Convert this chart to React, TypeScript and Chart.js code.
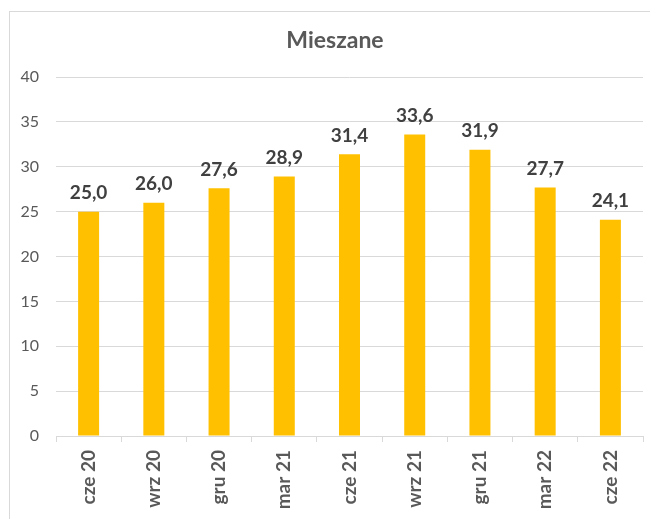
import React, { useEffect, useRef } from "react";
import { Chart, registerables } from "chart.js";

Chart.register(...registerables);

const categories = ["cze 20", "wrz 20", "gru 20", "mar 21", "cze 21", "wrz 21", "gru 21", "mar 22", "cze 22"];
const values = [25.0, 26.0, 27.6, 28.9, 31.4, 33.6, 31.9, 27.7, 24.1];
const titleText = "Mieszane";
const yMin = 0;
const yMax = 40;
const yStep = 5;

const FONT = "Lato, 'Open Sans', sans-serif";

const labelPlugin = {
  id: "valueLabels",
  afterDatasetsDraw(chart: any) {
    const ctx = chart.ctx;
    const meta = chart.getDatasetMeta(0);
    ctx.save();
    ctx.font = `bold 19px ${FONT}`;
    ctx.fillStyle = "#404040";
    ctx.textAlign = "center";
    ctx.textBaseline = "alphabetic";
    meta.data.forEach((bar: any, i: number) => {
      const txt = values[i].toFixed(1).replace(".", ",");
      ctx.fillText(txt, bar.x, bar.y - 12.5);
    });
    ctx.restore();
  },
};

const titlePlugin = {
  id: "customTitle",
  afterDraw(chart: any) {
    const ctx = chart.ctx;
    ctx.save();
    ctx.font = `bold 23px ${FONT}`;
    ctx.fillStyle = "#595959";
    ctx.textAlign = "center";
    ctx.textBaseline = "alphabetic";
    ctx.fillText(titleText, 335, 48);
    ctx.restore();
  },
};

export default function App() {
  const ref = useRef<HTMLCanvasElement | null>(null);
  useEffect(() => {
    if (!ref.current) return;
    const chart = new Chart(ref.current, {
      type: "bar",
      data: {
        labels: categories,
        datasets: [
          {
            data: values,
            backgroundColor: "#FFC000",
            borderWidth: 0,
            categoryPercentage: 1,
            barPercentage: 0.322,
          },
        ],
      },
      options: {
        animation: false,
        responsive: false,
        layout: { padding: { top: 77, right: 7, bottom: 0, left: 0 } },
        plugins: {
          legend: { display: false },
          title: { display: false },
          tooltip: { enabled: false },
        },
        scales: {
          x: {
            offset: true,
            grid: {
              offset: true,
              drawOnChartArea: false,
              drawTicks: true,
              tickLength: 6,
              color: "#d9d9d9",
            },
            border: { display: true, color: "#d9d9d9" },
            ticks: {
              minRotation: 90,
              maxRotation: 90,
              padding: 8,
              color: "#595959",
              font: { family: FONT, size: 19, weight: "bold" },
            },
            afterFit(scale: any) {
              scale.height = 83;
            },
          },
          y: {
            min: yMin,
            max: yMax,
            ticks: {
              stepSize: yStep,
              padding: 17,
              color: "#595959",
              font: { family: FONT, size: 16 },
            },
            grid: { color: "#d9d9d9", drawTicks: false },
            border: { display: false },
            afterFit(scale: any) {
              scale.width = 56;
            },
          },
        },
      },
      plugins: [labelPlugin, titlePlugin],
    });
    return () => chart.destroy();
  }, []);

  return (
    <>
      <div
        style={{
          position: "fixed",
          left: 9,
          top: 11,
          width: 660,
          height: 530,
          border: "1px solid #d9d9d9",
          boxSizing: "border-box",
          background: "#fff",
        }}
      />
      <canvas
        ref={ref}
        width={650}
        height={519}
        style={{ position: "fixed", left: 0, top: 0, width: 650, height: 519 }}
      />
    </>
  );
}
